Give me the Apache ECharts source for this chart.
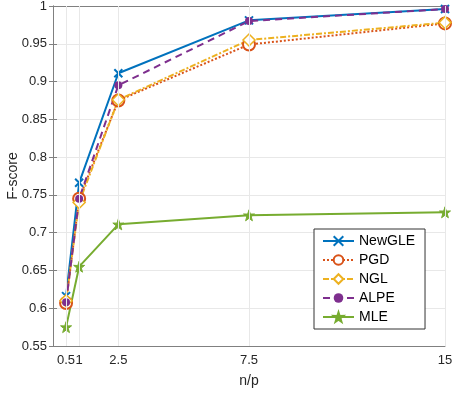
<!DOCTYPE html>
<html><head><meta charset="utf-8">
<script src="https://cdn.jsdelivr.net/npm/echarts@6/dist/echarts.min.js"></script>
<style>html,body{margin:0;padding:0;background:#fff}#c{width:458px;height:394px}</style>
</head><body><div id="c"></div>
<script>
const xs = [0.5, 1, 2.5, 7.5, 15];
const xTicks = [0.5, 1, 2.5, 7.5, 15];
const newgle = [0.616, 0.766, 0.911, 0.981, 0.996];
const pgd = [0.607, 0.745, 0.875, 0.949, 0.977];
const ngl = [0.610, 0.740, 0.876, 0.955, 0.978];
const alpe = [0.608, 0.745, 0.895, 0.980, 0.996];
const mle = [0.575, 0.655, 0.711, 0.723, 0.727];
const names = ['NewGLE', 'PGD', 'NGL', 'ALPE', 'MLE'];

const font = 'Liberation Sans, Arial, sans-serif';
const pair = v => xs.map((x, i) => [x, v[i]]);
const star = 'path://M50,0 L61.8,35.4 L97.6,34.5 L69.1,56.9 L79.4,90.5 L50,70 L20.6,90.5 L30.9,56.9 L2.4,34.5 L38.2,35.4 Z';
const cross = 'path://M0,0 L10,10 M10,0 L0,10';

function ser(name, vals, color, type, symbol, size, fill, bw) {
  return {
    name, type: 'line', data: pair(vals), symbol, symbolSize: size,
    lineStyle: { color, width: 2, type },
    itemStyle: { color: fill, borderColor: color, borderWidth: bw },
    emphasis: { disabled: true }
  };
}

const chart = echarts.init(document.getElementById('c'));
const axisLine = { show: true, lineStyle: { color: '#808080', width: 1 } };
chart.setOption({
  animation: false,
  backgroundColor: '#fff',
  grid: { left: 53, right: 13, top: 6, bottom: 48, containLabel: false, outerBoundsMode: 'none' },
  xAxis: [{
    type: 'value', min: 0, max: 15, interval: 0.5,
    name: 'n/p', nameLocation: 'middle', nameGap: 28, nameMoveOverlap: false,
    nameTextStyle: { fontFamily: font, fontSize: 14, color: '#262626' },
    axisLine,
    axisTick: { show: true, inside: true, length: 4, customValues: xTicks, lineStyle: { color: '#808080' } },
    axisLabel: { customValues: xTicks, fontFamily: font, fontSize: 13, color: '#262626', margin: 8,
      formatter: v => String(v) },
    splitLine: { show: false }
  }, {
    type: 'value', min: 0, max: 15, position: 'top',
    axisLine, axisTick: { show: true, inside: true, length: 4, customValues: xTicks, lineStyle: { color: '#808080' } },
    axisLabel: { show: false }, splitLine: { show: false }
  }],
  yAxis: [{
    type: 'value', min: 0.55, max: 1, interval: 0.05,
    name: 'F-score', nameLocation: 'middle', nameGap: 33, nameMoveOverlap: false,
    nameTextStyle: { fontFamily: font, fontSize: 14, color: '#262626' },
    axisLine,
    axisTick: { show: true, inside: true, length: 4, lineStyle: { color: '#808080' } },
    axisLabel: { fontFamily: font, fontSize: 13, color: '#262626', margin: 6,
      formatter: v => String(+v.toFixed(2)) },
    splitLine: { show: true, lineStyle: { color: '#e8e8e8', width: 1 } }
  }, {
    type: 'value', min: 0.55, max: 1, interval: 0.05, position: 'right',
    axisLine, axisTick: { show: true, inside: true, length: 4, lineStyle: { color: '#808080' } },
    axisLabel: { show: false }, splitLine: { show: false }
  }],
  legend: {
    orient: 'vertical', left: 314, top: 229,
    backgroundColor: '#fff', borderColor: '#333', borderWidth: 1,
    padding: [5, 10, 5, 8], itemGap: 5, itemWidth: 31, itemHeight: 12,
    textStyle: { fontFamily: font, fontSize: 14, color: '#000' },
    data: names
  },
  series: [
    {
      type: 'line', data: [], silent: true,
      markLine: {
        silent: true, symbol: 'none', label: { show: false },
        lineStyle: { color: '#e8e8e8', width: 1, type: 'solid' },
        data: xTicks.map(x => ({ xAxis: x }))
      },
      z: 0
    },
    ser('NewGLE', newgle, '#0072BD', 'solid', cross, 8, '#0072BD', 2),
    ser('PGD', pgd, '#D95319', 'dotted', 'circle', 12, '#ffffff', 2),
    ser('NGL', ngl, '#EDB120', [6, 2, 2, 2], 'diamond', 12, '#ffffff', 1.5),
    ser('ALPE', alpe, '#7E2F8E', [7, 5], 'circle', 8, '#7E2F8E', 0),
    ser('MLE', mle, '#77AC30', 'solid', star, 11, '#77AC30', 1)
  ]
});
</script></body></html>
